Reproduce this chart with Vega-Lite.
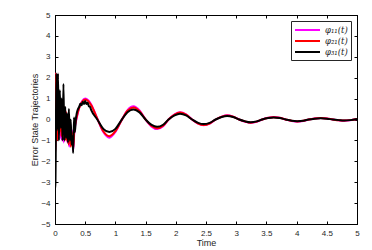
{
  "$schema": "https://vega.github.io/schema/vega-lite/v6.json",
  "width": 302,
  "height": 209,
  "autosize": {"type": "none"},
  "padding": {"left": 55, "top": 15, "right": 15, "bottom": 26},
  "background": "white",
  "config": {
    "view": {"stroke": "black", "strokeWidth": 1},
    "axis": {
      "grid": false,
      "domainColor": "black",
      "tickColor": "black",
      "labelColor": "#262626",
      "labelFont": "Liberation Sans",
      "labelFontSize": 8,
      "titleFont": "Liberation Sans",
      "titleFontSize": 9,
      "titleFontWeight": "normal",
      "titleColor": "#262626",
      "tickSize": -3,
      "format": "~g"
    }
  },
  "datasets": {
    "d": [
      {"t": 0, "v": -1.5, "s": "φ11"}, {"t": 0.006, "v": -1.2, "s": "φ11"}, {"t": 0.012, "v": 2.2, "s": "φ11"}, {"t": 0.025, "v": -0.9, "s": "φ11"}, {"t": 0.04, "v": 1.3, "s": "φ11"}, {"t": 0.055, "v": -0.8, "s": "φ11"}, {"t": 0.07, "v": 1.0, "s": "φ11"}, {"t": 0.085, "v": -0.9, "s": "φ11"}, {"t": 0.1, "v": 0.9, "s": "φ11"}, {"t": 0.115, "v": -1.0, "s": "φ11"}, {"t": 0.13, "v": 0.8, "s": "φ11"}, {"t": 0.145, "v": -1.1, "s": "φ11"}, {"t": 0.16, "v": 0.5, "s": "φ11"}, {"t": 0.175, "v": -0.9, "s": "φ11"}, {"t": 0.19, "v": 0.3, "s": "φ11"}, {"t": 0.205, "v": -1.1, "s": "φ11"}, {"t": 0.22, "v": 0.1, "s": "φ11"}, {"t": 0.235, "v": -1.3, "s": "φ11"}, {"t": 0.25, "v": -0.1, "s": "φ11"}, {"t": 0.265, "v": -1.2, "s": "φ11"}, {"t": 0.28, "v": -0.5, "s": "φ11"}, {"t": 0.3, "v": -1.5, "s": "φ11"}, {"t": 0.32, "v": -0.6, "s": "φ11"}, {"t": 0.34, "v": -0.2, "s": "φ11"}, {"t": 0.37, "v": 0.2, "s": "φ11"}, {"t": 0.4, "v": 0.55, "s": "φ11"}, {"t": 0.45, "v": 0.88, "s": "φ11"}, {"t": 0.5, "v": 1.0, "s": "φ11"}, {"t": 0.55, "v": 0.92, "s": "φ11"}, {"t": 0.6, "v": 0.72, "s": "φ11"}, {"t": 0.7, "v": 0.05, "s": "φ11"}, {"t": 0.8, "v": -0.6, "s": "φ11"}, {"t": 0.9, "v": -0.87, "s": "φ11"}, {"t": 1.0, "v": -0.6, "s": "φ11"}, {"t": 1.1, "v": -0.05, "s": "φ11"}, {"t": 1.2, "v": 0.45, "s": "φ11"}, {"t": 1.3, "v": 0.63, "s": "φ11"}, {"t": 1.4, "v": 0.43, "s": "φ11"}, {"t": 1.5, "v": 0.0, "s": "φ11"}, {"t": 1.6, "v": -0.34, "s": "φ11"}, {"t": 1.69, "v": -0.46, "s": "φ11"}, {"t": 1.79, "v": -0.32, "s": "φ11"}, {"t": 1.88, "v": 0.0, "s": "φ11"}, {"t": 1.98, "v": 0.25, "s": "φ11"}, {"t": 2.07, "v": 0.35, "s": "φ11"}, {"t": 2.17, "v": 0.25, "s": "φ11"}, {"t": 2.27, "v": 0.0, "s": "φ11"}, {"t": 2.37, "v": -0.2, "s": "φ11"}, {"t": 2.46, "v": -0.28, "s": "φ11"}, {"t": 2.56, "v": -0.2, "s": "φ11"}, {"t": 2.66, "v": 0.0, "s": "φ11"}, {"t": 2.76, "v": 0.14, "s": "φ11"}, {"t": 2.85, "v": 0.2, "s": "φ11"}, {"t": 2.95, "v": 0.14, "s": "φ11"}, {"t": 3.05, "v": 0.0, "s": "φ11"}, {"t": 3.15, "v": -0.11, "s": "φ11"}, {"t": 3.24, "v": -0.16, "s": "φ11"}, {"t": 3.34, "v": -0.11, "s": "φ11"}, {"t": 3.43, "v": 0.0, "s": "φ11"}, {"t": 3.53, "v": 0.08, "s": "φ11"}, {"t": 3.62, "v": 0.12, "s": "φ11"}, {"t": 3.72, "v": 0.08, "s": "φ11"}, {"t": 3.82, "v": 0.0, "s": "φ11"}, {"t": 3.92, "v": -0.07, "s": "φ11"}, {"t": 4.01, "v": -0.1, "s": "φ11"}, {"t": 4.11, "v": -0.07, "s": "φ11"}, {"t": 4.2, "v": 0.0, "s": "φ11"}, {"t": 4.3, "v": 0.05, "s": "φ11"}, {"t": 4.4, "v": 0.07, "s": "φ11"}, {"t": 4.5, "v": 0.05, "s": "φ11"}, {"t": 4.6, "v": 0.0, "s": "φ11"}, {"t": 4.7, "v": -0.04, "s": "φ11"}, {"t": 4.79, "v": -0.06, "s": "φ11"}, {"t": 4.89, "v": -0.04, "s": "φ11"}, {"t": 5.0, "v": 0.02, "s": "φ11"},

      {"t": 0, "v": -1.6, "s": "φ21"}, {"t": 0.006, "v": -1.3, "s": "φ21"}, {"t": 0.01, "v": 2.2, "s": "φ21"}, {"t": 0.02, "v": 1.9, "s": "φ21"}, {"t": 0.03, "v": -1.0, "s": "φ21"}, {"t": 0.045, "v": -0.8, "s": "φ21"}, {"t": 0.06, "v": 1.4, "s": "φ21"}, {"t": 0.075, "v": -0.6, "s": "φ21"}, {"t": 0.09, "v": 0.8, "s": "φ21"}, {"t": 0.105, "v": -0.8, "s": "φ21"}, {"t": 0.12, "v": 0.9, "s": "φ21"}, {"t": 0.135, "v": -0.9, "s": "φ21"}, {"t": 0.15, "v": 0.6, "s": "φ21"}, {"t": 0.165, "v": -1.0, "s": "φ21"}, {"t": 0.18, "v": 0.4, "s": "φ21"}, {"t": 0.195, "v": -1.0, "s": "φ21"}, {"t": 0.21, "v": 0.2, "s": "φ21"}, {"t": 0.225, "v": -1.2, "s": "φ21"}, {"t": 0.24, "v": 0.0, "s": "φ21"}, {"t": 0.26, "v": -1.3, "s": "φ21"}, {"t": 0.28, "v": -0.6, "s": "φ21"}, {"t": 0.3, "v": -1.4, "s": "φ21"}, {"t": 0.32, "v": -0.5, "s": "φ21"}, {"t": 0.34, "v": -0.15, "s": "φ21"}, {"t": 0.37, "v": 0.25, "s": "φ21"}, {"t": 0.4, "v": 0.55, "s": "φ21"}, {"t": 0.45, "v": 0.85, "s": "φ21"}, {"t": 0.5, "v": 0.96, "s": "φ21"}, {"t": 0.55, "v": 0.88, "s": "φ21"}, {"t": 0.6, "v": 0.68, "s": "φ21"}, {"t": 0.7, "v": 0.04, "s": "φ21"}, {"t": 0.8, "v": -0.56, "s": "φ21"}, {"t": 0.9, "v": -0.8, "s": "φ21"}, {"t": 1.0, "v": -0.56, "s": "φ21"}, {"t": 1.1, "v": -0.05, "s": "φ21"}, {"t": 1.2, "v": 0.42, "s": "φ21"}, {"t": 1.3, "v": 0.58, "s": "φ21"}, {"t": 1.4, "v": 0.4, "s": "φ21"}, {"t": 1.5, "v": 0.0, "s": "φ21"}, {"t": 1.6, "v": -0.31, "s": "φ21"}, {"t": 1.69, "v": -0.42, "s": "φ21"}, {"t": 1.79, "v": -0.3, "s": "φ21"}, {"t": 1.88, "v": 0.0, "s": "φ21"}, {"t": 1.98, "v": 0.23, "s": "φ21"}, {"t": 2.07, "v": 0.33, "s": "φ21"}, {"t": 2.17, "v": 0.23, "s": "φ21"}, {"t": 2.27, "v": 0.0, "s": "φ21"}, {"t": 2.37, "v": -0.19, "s": "φ21"}, {"t": 2.46, "v": -0.26, "s": "φ21"}, {"t": 2.56, "v": -0.19, "s": "φ21"}, {"t": 2.66, "v": 0.0, "s": "φ21"}, {"t": 2.76, "v": 0.13, "s": "φ21"}, {"t": 2.85, "v": 0.19, "s": "φ21"}, {"t": 2.95, "v": 0.13, "s": "φ21"}, {"t": 3.05, "v": 0.0, "s": "φ21"}, {"t": 3.15, "v": -0.1, "s": "φ21"}, {"t": 3.24, "v": -0.15, "s": "φ21"}, {"t": 3.34, "v": -0.1, "s": "φ21"}, {"t": 3.43, "v": 0.0, "s": "φ21"}, {"t": 3.53, "v": 0.08, "s": "φ21"}, {"t": 3.62, "v": 0.11, "s": "φ21"}, {"t": 3.72, "v": 0.08, "s": "φ21"}, {"t": 3.82, "v": 0.0, "s": "φ21"}, {"t": 3.92, "v": -0.06, "s": "φ21"}, {"t": 4.01, "v": -0.09, "s": "φ21"}, {"t": 4.11, "v": -0.06, "s": "φ21"}, {"t": 4.2, "v": 0.0, "s": "φ21"}, {"t": 4.3, "v": 0.05, "s": "φ21"}, {"t": 4.4, "v": 0.07, "s": "φ21"}, {"t": 4.5, "v": 0.05, "s": "φ21"}, {"t": 4.6, "v": 0.0, "s": "φ21"}, {"t": 4.7, "v": -0.04, "s": "φ21"}, {"t": 4.79, "v": -0.05, "s": "φ21"}, {"t": 4.89, "v": -0.03, "s": "φ21"}, {"t": 5.0, "v": 0.02, "s": "φ21"},

      {"t": 0, "v": -3.3, "s": "φ31"}, {"t": 0.008, "v": -3.0, "s": "φ31"}, {"t": 0.014, "v": -1.0, "s": "φ31"}, {"t": 0.022, "v": 2.2, "s": "φ31"}, {"t": 0.035, "v": -0.5, "s": "φ31"}, {"t": 0.05, "v": 2.2, "s": "φ31"}, {"t": 0.065, "v": -1.0, "s": "φ31"}, {"t": 0.08, "v": 1.4, "s": "φ31"}, {"t": 0.095, "v": -0.4, "s": "φ31"}, {"t": 0.11, "v": 1.0, "s": "φ31"}, {"t": 0.125, "v": -1.0, "s": "φ31"}, {"t": 0.14, "v": 1.7, "s": "φ31"}, {"t": 0.155, "v": -1.0, "s": "φ31"}, {"t": 0.17, "v": 0.6, "s": "φ31"}, {"t": 0.185, "v": -0.9, "s": "φ31"}, {"t": 0.2, "v": 0.3, "s": "φ31"}, {"t": 0.215, "v": -1.1, "s": "φ31"}, {"t": 0.23, "v": 0.5, "s": "φ31"}, {"t": 0.245, "v": -1.0, "s": "φ31"}, {"t": 0.26, "v": 0.0, "s": "φ31"}, {"t": 0.275, "v": -1.2, "s": "φ31"}, {"t": 0.29, "v": -0.8, "s": "φ31"}, {"t": 0.3, "v": -1.6, "s": "φ31"}, {"t": 0.315, "v": 0.1, "s": "φ31"}, {"t": 0.33, "v": -0.6, "s": "φ31"}, {"t": 0.345, "v": 0.0, "s": "φ31"}, {"t": 0.36, "v": 0.3, "s": "φ31"}, {"t": 0.38, "v": 0.5, "s": "φ31"}, {"t": 0.4, "v": 0.6, "s": "φ31"}, {"t": 0.42, "v": 0.75, "s": "φ31"}, {"t": 0.44, "v": 0.68, "s": "φ31"}, {"t": 0.46, "v": 0.85, "s": "φ31"}, {"t": 0.48, "v": 0.74, "s": "φ31"}, {"t": 0.5, "v": 0.88, "s": "φ31"}, {"t": 0.52, "v": 0.74, "s": "φ31"}, {"t": 0.54, "v": 0.8, "s": "φ31"}, {"t": 0.56, "v": 0.64, "s": "φ31"}, {"t": 0.58, "v": 0.6, "s": "φ31"}, {"t": 0.6, "v": 0.45, "s": "φ31"}, {"t": 0.7, "v": 0.0, "s": "φ31"}, {"t": 0.8, "v": -0.45, "s": "φ31"}, {"t": 0.9, "v": -0.6, "s": "φ31"}, {"t": 1.0, "v": -0.45, "s": "φ31"}, {"t": 1.1, "v": -0.03, "s": "φ31"}, {"t": 1.2, "v": 0.35, "s": "φ31"}, {"t": 1.3, "v": 0.48, "s": "φ31"}, {"t": 1.4, "v": 0.34, "s": "φ31"}, {"t": 1.5, "v": 0.0, "s": "φ31"}, {"t": 1.6, "v": -0.26, "s": "φ31"}, {"t": 1.69, "v": -0.35, "s": "φ31"}, {"t": 1.79, "v": -0.25, "s": "φ31"}, {"t": 1.88, "v": 0.0, "s": "φ31"}, {"t": 1.98, "v": 0.2, "s": "φ31"}, {"t": 2.07, "v": 0.28, "s": "φ31"}, {"t": 2.17, "v": 0.2, "s": "φ31"}, {"t": 2.27, "v": 0.0, "s": "φ31"}, {"t": 2.37, "v": -0.16, "s": "φ31"}, {"t": 2.46, "v": -0.22, "s": "φ31"}, {"t": 2.56, "v": -0.16, "s": "φ31"}, {"t": 2.66, "v": 0.0, "s": "φ31"}, {"t": 2.76, "v": 0.12, "s": "φ31"}, {"t": 2.85, "v": 0.17, "s": "φ31"}, {"t": 2.95, "v": 0.12, "s": "φ31"}, {"t": 3.05, "v": 0.0, "s": "φ31"}, {"t": 3.15, "v": -0.09, "s": "φ31"}, {"t": 3.24, "v": -0.13, "s": "φ31"}, {"t": 3.34, "v": -0.09, "s": "φ31"}, {"t": 3.43, "v": 0.0, "s": "φ31"}, {"t": 3.53, "v": 0.07, "s": "φ31"}, {"t": 3.62, "v": 0.1, "s": "φ31"}, {"t": 3.72, "v": 0.07, "s": "φ31"}, {"t": 3.82, "v": 0.0, "s": "φ31"}, {"t": 3.92, "v": -0.06, "s": "φ31"}, {"t": 4.01, "v": -0.08, "s": "φ31"}, {"t": 4.11, "v": -0.06, "s": "φ31"}, {"t": 4.2, "v": 0.0, "s": "φ31"}, {"t": 4.3, "v": 0.04, "s": "φ31"}, {"t": 4.4, "v": 0.06, "s": "φ31"}, {"t": 4.5, "v": 0.04, "s": "φ31"}, {"t": 4.6, "v": 0.0, "s": "φ31"}, {"t": 4.7, "v": -0.03, "s": "φ31"}, {"t": 4.79, "v": -0.05, "s": "φ31"}, {"t": 4.89, "v": -0.03, "s": "φ31"}, {"t": 5.0, "v": 0.02, "s": "φ31"}
    ]
  },
  "data": {"name": "d"},
  "layer": [
    {
      "mark": {"type": "line", "strokeWidth": 2, "interpolate": "monotone", "clip": true},
      "encoding": {
        "x": {"field": "t", "type": "quantitative", "scale": {"domain": [0, 5], "nice": false},
          "axis": {"title": "Time", "values": [0, 0.5, 1, 1.5, 2, 2.5, 3, 3.5, 4, 4.5, 5], "labelPadding": 8, "titlePadding": 1, "labelFlush": false, "labelOverlap": false}},
        "y": {"field": "v", "type": "quantitative", "scale": {"domain": [-5, 5], "nice": false},
          "axis": {"title": "Error State Trajectories", "values": [-5, -4, -3, -2, -1, 0, 1, 2, 3, 4, 5], "labelPadding": 8, "titlePadding": 1, "labelFlush": false, "labelOverlap": false}},
        "color": {"field": "s", "type": "nominal",
          "scale": {"domain": ["φ11", "φ21", "φ31"], "range": ["#ff00ff", "#ff0000", "#000000"]},
          "legend": {
            "title": null,
            "orient": "top-right",
            "offset": 6,
            "symbolType": "M-1,0H4",
            "symbolSize": 100,
            "symbolStrokeWidth": 2,
            "symbolFillColor": "transparent",
            "labelExpr": "datum.label == 'φ11' ? 'φ₁₁(t)' : datum.label == 'φ21' ? 'φ₂₁(t)' : 'φ₃₁(t)'",
            "labelFont": "DejaVu Serif",
            "labelFontStyle": "italic",
            "labelFontSize": 8.5,
            "labelColor": "#262626",
            "strokeColor": "#262626",
            "fillColor": "white",
            "padding": 3,
            "rowPadding": 0,
            "labelOffset": 19
          }
        }
      }
    },
    {
      "mark": {"type": "line", "opacity": 0},
      "encoding": {
        "x": {"field": "t", "type": "quantitative", "axis": {"orient": "top", "labels": false, "title": null, "values": [0, 0.5, 1, 1.5, 2, 2.5, 3, 3.5, 4, 4.5, 5]}},
        "y": {"field": "v", "type": "quantitative", "axis": {"orient": "right", "labels": false, "title": null, "values": [-5, -4, -3, -2, -1, 0, 1, 2, 3, 4, 5]}}
      }
    }
  ],
  "resolve": {"axis": {"x": "independent", "y": "independent"}}
}
